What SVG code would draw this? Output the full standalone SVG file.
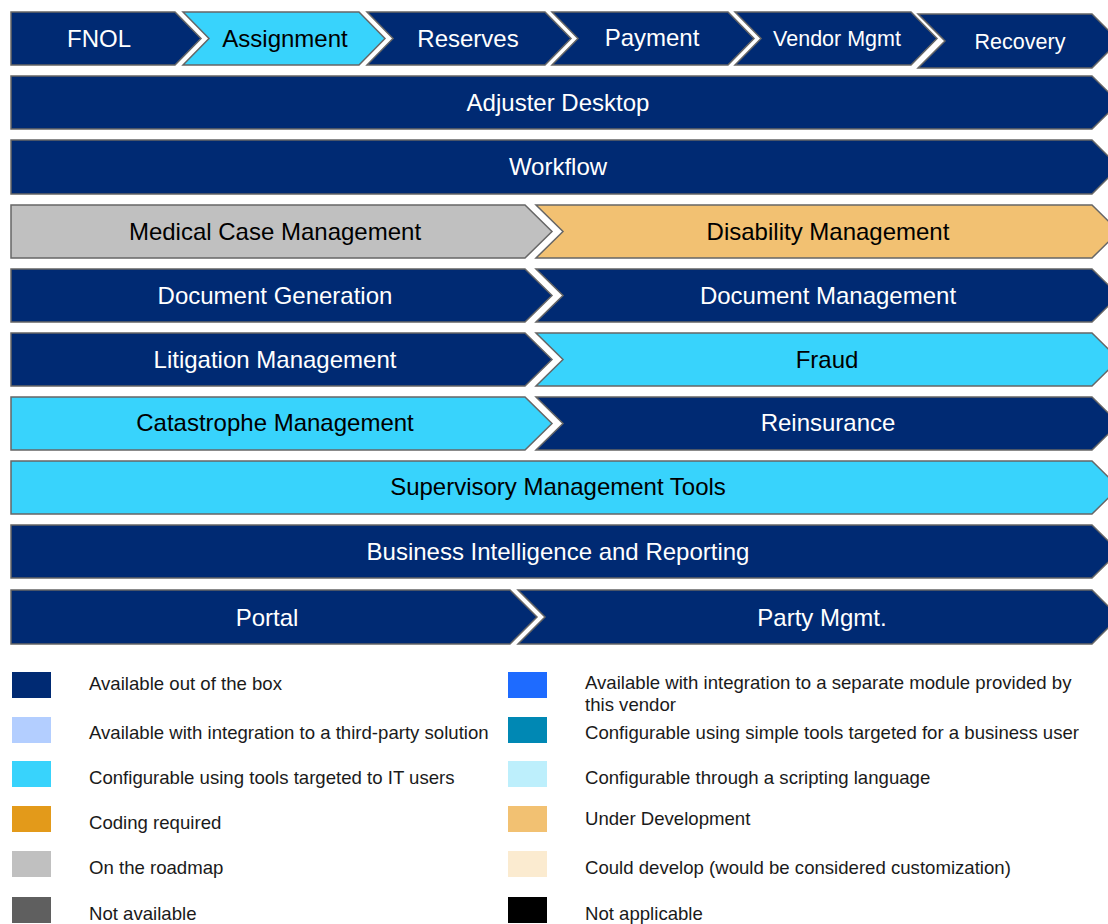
<svg xmlns="http://www.w3.org/2000/svg" width="1108" height="924" viewBox="0 0 1108 924">
  <style>
    .shape { stroke: #666666; stroke-width: 1.5; stroke-linejoin: miter; }
    .navy { fill: #002A73; }
    .cyan { fill: #38D3FC; }
    .grey { fill: #C0C0C0; }
    .amber { fill: #F2C172; }
    .lbl { font-family: "Liberation Sans", Arial, sans-serif; font-size: 24px; text-anchor: middle; }
    .lbl.sm { font-size: 21.5px; }
    .w { fill: #FFFFFF; }
    .k { fill: #000000; }
    .key { font-family: "Liberation Sans", Arial, sans-serif; font-size: 18.6px; fill: #1a1a1a; }
  </style>

  <!-- process steps -->
  <g id="step-fnol">
    <path class="shape navy" d="M11,12 H175 L201,38.5 L175,65 H11 Z"/>
    <text class="lbl w" x="99" y="47">FNOL</text>
  </g>
  <g id="step-assignment">
    <path class="shape cyan" d="M183,12 H359 L385,38.5 L359,65 H183 L209,38.5 Z"/>
    <text class="lbl k" x="285" y="47">Assignment</text>
  </g>
  <g id="step-reserves">
    <path class="shape navy" d="M367,12 H545 L571,38.5 L545,65 H367 L393,38.5 Z"/>
    <text class="lbl w" x="468" y="47">Reserves</text>
  </g>
  <g id="step-payment">
    <path class="shape navy" d="M552,12 H728 L754,38.5 L728,65 H552 L578,38.5 Z"/>
    <text class="lbl w" x="652" y="46">Payment</text>
  </g>
  <g id="step-vendor">
    <path class="shape navy" d="M735,12 H911 L937,38.5 L911,65 H735 L761,38.5 Z"/>
    <text class="lbl sm w" x="837" y="46">Vendor Mgmt</text>
  </g>
  <g id="step-recovery">
    <path class="shape navy" d="M918,14 H1092 L1119,41 L1092,68 H918 L945,41 Z"/>
    <text class="lbl sm w" x="1020" y="49">Recovery</text>
  </g>

  <!-- capability bands -->
  <g id="adjuster-desktop">
    <path class="shape navy" d="M11,76 H1092 L1119,102.5 L1092,129 H11 Z"/>
    <text class="lbl w" x="558" y="111">Adjuster Desktop</text>
  </g>
  <g id="workflow">
    <path class="shape navy" d="M11,140 H1092 L1119,167 L1092,194 H11 Z"/>
    <text class="lbl w" x="558" y="175">Workflow</text>
  </g>

  <g id="medical-case-management">
    <path class="shape grey" d="M11,205 H525 L552,231.5 L525,258 H11 Z"/>
    <text class="lbl k" x="275" y="240">Medical Case Management</text>
  </g>
  <g id="disability-management">
    <path class="shape amber" d="M536,205 H1092 L1119,231.5 L1092,258 H536 L563,231.5 Z"/>
    <text class="lbl k" x="828" y="240">Disability Management</text>
  </g>

  <g id="document-generation">
    <path class="shape navy" d="M11,269 H525 L552,295.5 L525,322 H11 Z"/>
    <text class="lbl w" x="275" y="304">Document Generation</text>
  </g>
  <g id="document-management">
    <path class="shape navy" d="M536,269 H1092 L1119,295.5 L1092,322 H536 L563,295.5 Z"/>
    <text class="lbl w" x="828" y="304">Document Management</text>
  </g>

  <g id="litigation-management">
    <path class="shape navy" d="M11,333 H525 L552,359.5 L525,386 H11 Z"/>
    <text class="lbl w" x="275" y="368">Litigation Management</text>
  </g>
  <g id="fraud">
    <path class="shape cyan" d="M536,333 H1092 L1119,359.5 L1092,386 H536 L563,359.5 Z"/>
    <text class="lbl k" x="827" y="368">Fraud</text>
  </g>

  <g id="catastrophe-management">
    <path class="shape cyan" d="M11,397 H525 L552,423.5 L525,450 H11 Z"/>
    <text class="lbl k" x="275" y="431">Catastrophe Management</text>
  </g>
  <g id="reinsurance">
    <path class="shape navy" d="M536,397 H1092 L1119,423.5 L1092,450 H536 L563,423.5 Z"/>
    <text class="lbl w" x="828" y="431">Reinsurance</text>
  </g>

  <g id="supervisory-tools">
    <path class="shape cyan" d="M11,461 H1092 L1119,487.5 L1092,514 H11 Z"/>
    <text class="lbl k" x="558" y="495">Supervisory Management Tools</text>
  </g>
  <g id="bi-reporting">
    <path class="shape navy" d="M11,525 H1092 L1119,551.5 L1092,578 H11 Z"/>
    <text class="lbl w" x="558" y="560">Business Intelligence and Reporting</text>
  </g>

  <g id="portal">
    <path class="shape navy" d="M11,590 H510 L537,617 L510,644 H11 Z"/>
    <text class="lbl w" x="267" y="626">Portal</text>
  </g>
  <g id="party-mgmt">
    <path class="shape navy" d="M518,590 H1092 L1119,617 L1092,644 H518 L545,617 Z"/>
    <text class="lbl w" x="822" y="626">Party Mgmt.</text>
  </g>

  <!-- legend -->
  <g id="legend">
    <rect x="12" y="672" width="39" height="26" fill="#002A73"/>
    <text class="key" x="89" y="690">Available out of the box</text>
    <rect x="12" y="717" width="39" height="26" fill="#B3CEFF"/>
    <text class="key" x="89" y="739">Available with integration to a third-party solution</text>
    <rect x="12" y="761" width="39" height="26" fill="#38D3FC"/>
    <text class="key" x="89" y="784">Configurable using tools targeted to IT users</text>
    <rect x="12" y="806" width="39" height="26" fill="#E39A1A"/>
    <text class="key" x="89" y="829">Coding required</text>
    <rect x="12" y="851" width="39" height="26" fill="#C0C0C0"/>
    <text class="key" x="89" y="874">On the roadmap</text>
    <rect x="12" y="897" width="39" height="26" fill="#5F5F5F"/>
    <text class="key" x="89" y="920">Not available</text>

    <rect x="508" y="672" width="39" height="26" fill="#1E6BFF"/>
    <text class="key" x="585" y="689">Available with integration to a separate module provided by</text>
    <text class="key" x="585" y="711">this vendor</text>
    <rect x="508" y="717" width="39" height="26" fill="#0088B4"/>
    <text class="key" x="585" y="739">Configurable using simple tools targeted for a business user</text>
    <rect x="508" y="761" width="39" height="26" fill="#BDEFFC"/>
    <text class="key" x="585" y="784">Configurable through a scripting language</text>
    <rect x="508" y="806" width="39" height="26" fill="#F2C172"/>
    <text class="key" x="585" y="825">Under Development</text>
    <rect x="508" y="851" width="39" height="26" fill="#FBEBD0"/>
    <text class="key" x="585" y="874">Could develop (would be considered customization)</text>
    <rect x="508" y="897" width="39" height="26" fill="#000000"/>
    <text class="key" x="585" y="920">Not applicable</text>
  </g>
</svg>
